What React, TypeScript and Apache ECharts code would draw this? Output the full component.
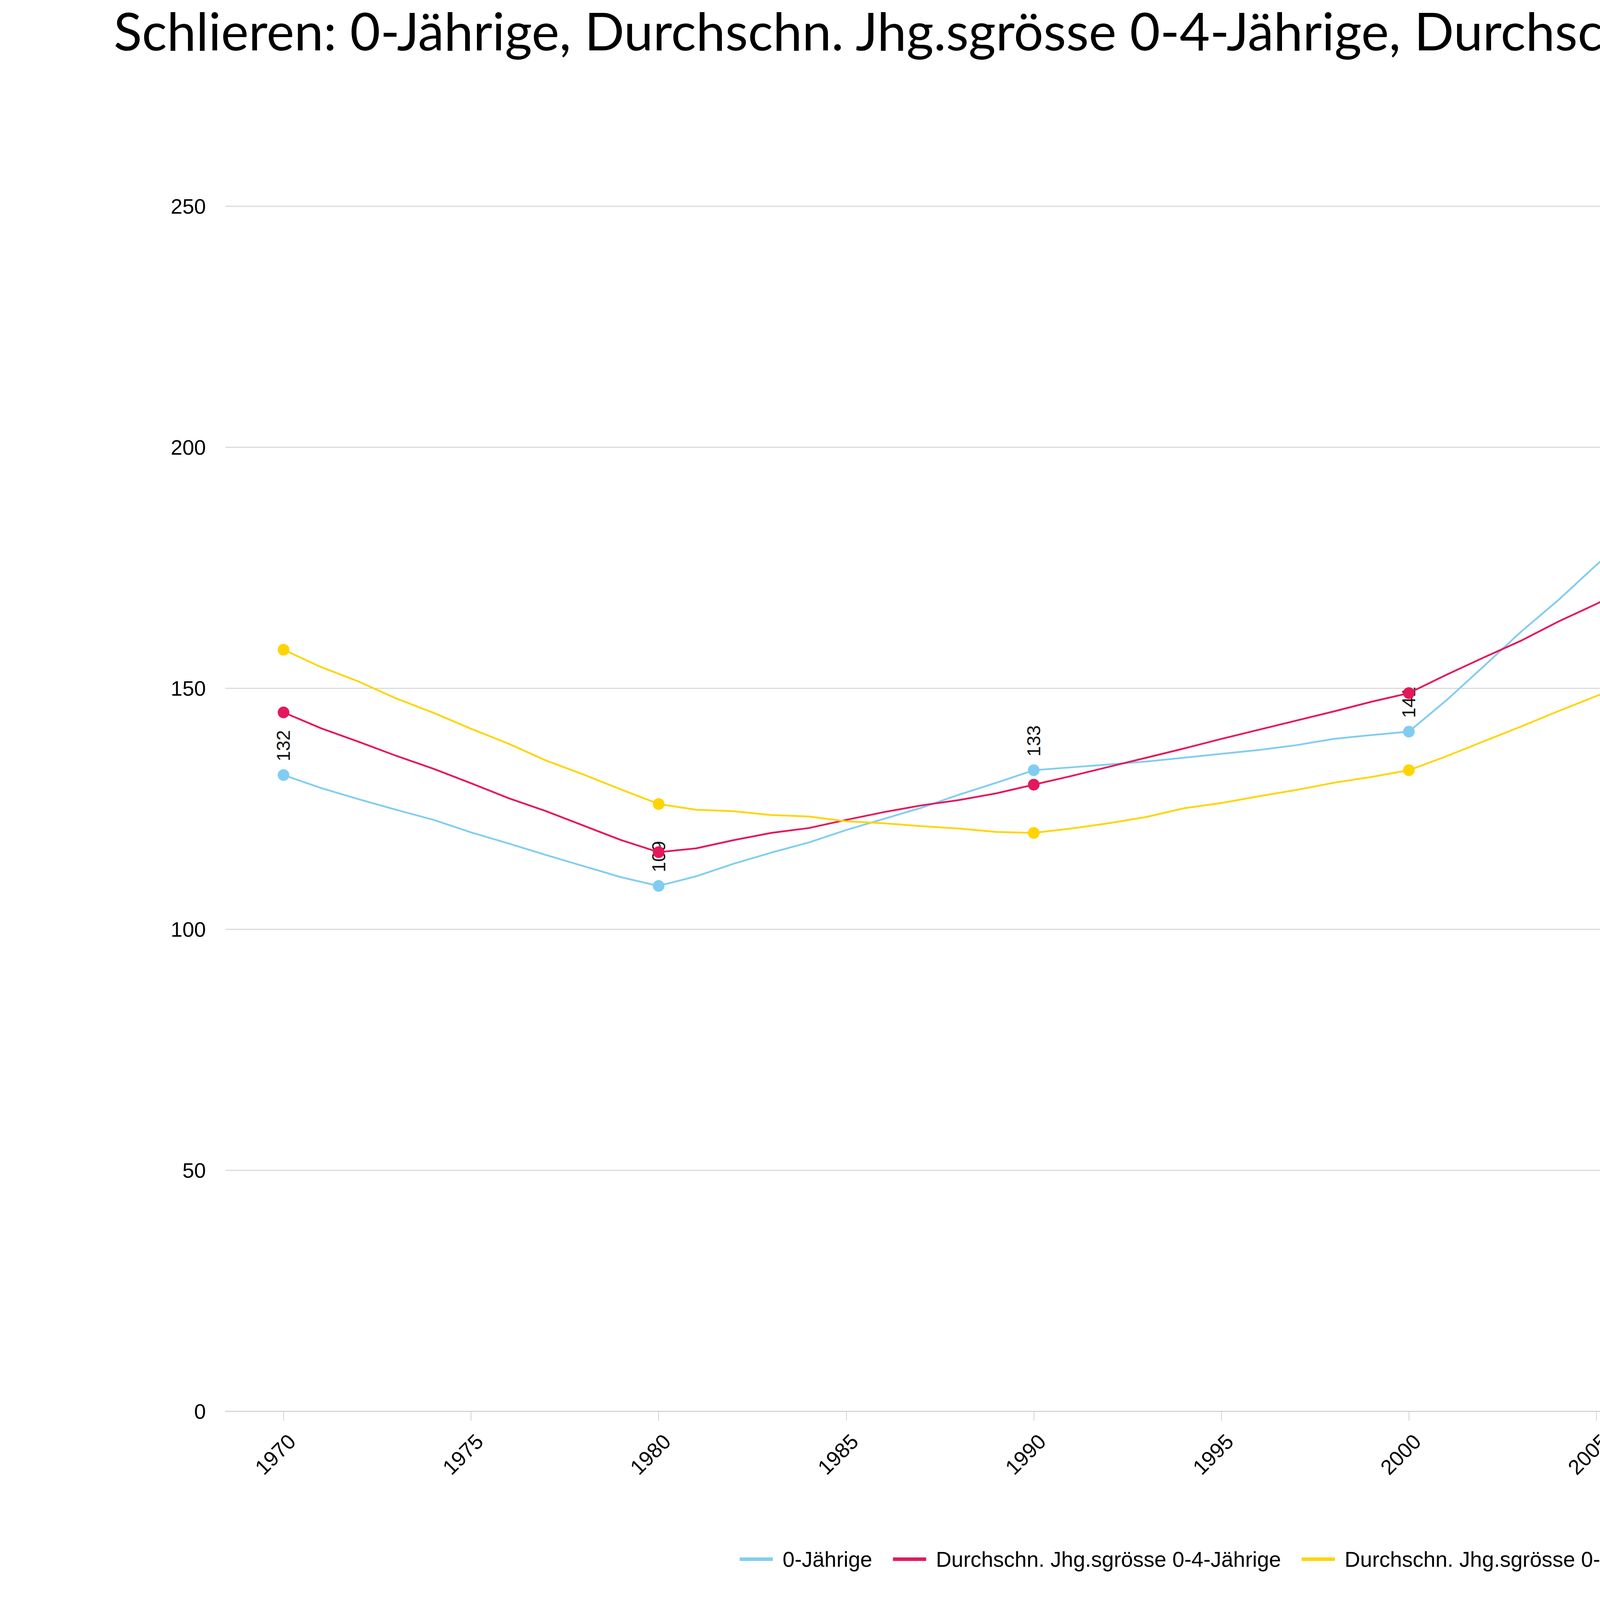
import React, { useEffect, useRef } from 'react';
import * as echarts from 'echarts';

const TITLE = 'Schlieren: 0-Jährige, Durchschn. Jhg.sgrösse 0-4-Jährige, Durchschn. Jhg.sgrösse 0-15-Jährige';
const SERIES_NAMES = ['0-Jährige', 'Durchschn. Jhg.sgrösse 0-4-Jährige', 'Durchschn. Jhg.sgrösse 0-15-Jährige'];
const COLORS = ['#80CDF1', '#E4185A', '#FFD400'];

const years = [
  1970, 1971, 1972, 1973, 1974, 1975, 1976, 1977, 1978, 1979,
  1980, 1981, 1982, 1983, 1984, 1985, 1986, 1987, 1988, 1989,
  1990, 1991, 1992, 1993, 1994, 1995, 1996, 1997, 1998, 1999,
  2000, 2001, 2002, 2003, 2004, 2005, 2006, 2007, 2008, 2009,
  2010, 2011, 2012, 2013, 2014, 2015, 2016, 2017, 2018, 2019,
  2020, 2021, 2022,
];

const nullJaehrige = [
  132, 129.3, 127.0, 124.8, 122.7, 120.1, 117.8, 115.4, 113.1, 110.8,
  109, 111.0, 113.6, 115.9, 118.0, 120.6, 122.9, 125.2, 127.9, 130.4,
  133, 133.6, 134.2, 134.8, 135.6, 136.4, 137.2, 138.2, 139.5, 140.3,
  141, 147.5, 154.6, 161.8, 168.4, 175.6, 182.3, 189.4, 196.3, 203.2,
  210, 222, 198, 233, 231, 222, 245, 224, 226, 228,
  242, 230, 249,
];

const jhg0bis4 = [
  145, 141.7, 138.9, 136.0, 133.3, 130.3, 127.2, 124.5, 121.5, 118.5,
  116, 116.8, 118.5, 120.0, 121.0, 122.7, 124.3, 125.7, 126.8, 128.2,
  130, 131.8, 133.7, 135.6, 137.5, 139.5, 141.4, 143.3, 145.2, 147.2,
  149, 152.8, 156.4, 159.9, 163.9, 167.5, 171.3, 174.9, 178.3, 182.2,
  186, 197, 201, 205, 215, 211, 217, 218, 211, 207,
  218, 211, 218,
];

const jhg0bis15 = [
  158, 154.4, 151.4, 147.9, 144.9, 141.6, 138.5, 135.0, 132.1, 129.0,
  126, 124.8, 124.5, 123.7, 123.4, 122.4, 122.0, 121.4, 120.9, 120.2,
  120, 120.9, 122.0, 123.3, 125.1, 126.2, 127.6, 128.9, 130.4, 131.6,
  133, 135.9, 139.0, 142.1, 145.3, 148.4, 151.4, 154.6, 157.6, 160.7,
  164, 168, 172, 176, 181, 181, 184, 183, 180, 180,
  189, 189, 192.6,
];

const censusYears = [1970, 1980, 1990, 2000, 2010];
const labelYears = [1970, 1980, 1990, 2000, 2010, 2015, 2020, 2022];
const xTickYears = [1970, 1975, 1980, 1985, 1990, 1995, 2000, 2005, 2010, 2015, 2022];
const SPLIT_YEAR = 2010;

function buildSeries(idx: number, values: number[], withLabels: boolean) {
  const name = SERIES_NAMES[idx];
  const color = COLORS[idx];
  const pairs = years.map((y, i) => [y, values[i]]);
  const early = pairs.filter((p) => p[0] <= SPLIT_YEAR);
  const late = pairs.filter((p) => p[0] >= SPLIT_YEAR);
  const labelCfg = (distance: number) => ({
    show: withLabels,
    position: 'top',
    rotate: 90,
    align: 'left',
    verticalAlign: 'middle',
    distance,
    fontSize: 48,
    fontFamily: 'Liberation Sans',
    color: '#111',
    formatter: (p: any) => (labelYears.includes(p.value[0]) ? String(Math.round(p.value[1])) : ''),
  });
  return [
    {
      name,
      type: 'line',
      data: early,
      color,
      lineStyle: { width: 4.5, color },
      itemStyle: { color },
      symbol: 'circle',
      symbolSize: (v: number[]) => (censusYears.includes(v[0]) ? 30 : 1),
      showAllSymbol: true,
      label: labelCfg(20),
      emphasis: { disabled: true },
      z: 2 + idx,
    },
    {
      name,
      type: 'line',
      data: late,
      color,
      lineStyle: { width: 9, color },
      itemStyle: { color },
      symbol: 'circle',
      symbolSize: 1,
      showAllSymbol: true,
      label: {
        ...labelCfg(34),
        formatter: (p: any) =>
          labelYears.includes(p.value[0]) && p.value[0] > SPLIT_YEAR ? String(Math.round(p.value[1])) : '',
      },
      emphasis: { disabled: true },
      z: 2 + idx,
    },
  ];
}

export default function App() {
  const ref = useRef<HTMLDivElement>(null);
  useEffect(() => {
    document.body.style.margin = '0';
    if (!ref.current) return;
    const chart = echarts.init(ref.current, undefined, { renderer: 'svg' });
    const option: any = {
      animation: false,
      backgroundColor: '#ffffff',
      title: [
        {
          text: TITLE,
          left: 291,
          top: 10,
          padding: 0,
          textStyle: { fontFamily: 'Lato', fontSize: 134, fontWeight: 'normal', color: '#000' },
        },
        {
          text: 'Eckdaten.ch',
          left: 288,
          top: 4109,
          padding: 0,
          textStyle: { fontFamily: 'Lato', fontSize: 48, fontWeight: 'normal', color: '#000' },
        },
        {
          text: 'Quelle: BFS (STATPOP), BFS (VZ)',
          right: 266,
          top: 4109,
          padding: 0,
          textStyle: { fontFamily: 'Lato', fontSize: 48, fontWeight: 'normal', color: '#000' },
        },
      ],
      legend: {
        data: SERIES_NAMES,
        left: 'center',
        top: 3964,
        padding: 0,
        icon: 'rect',
        itemWidth: 85,
        itemHeight: 9,
        itemGap: 53,
        textStyle: { fontFamily: 'Liberation Sans', fontSize: 55, color: '#000', padding: [0, 0, 0, 20] },
      },
      grid: { left: 577, right: 377, top: 528, bottom: 554, containLabel: false },
      xAxis: {
        type: 'value',
        min: 1968.45,
        max: 2023.6,
        axisLine: { show: true, lineStyle: { color: '#c4c4c4', width: 2 } },
        axisTick: { show: true, customValues: xTickYears, length: 24, lineStyle: { color: '#c4c4c4', width: 1.5 } },
        axisLabel: {
          customValues: xTickYears,
          rotate: 45,
          fontSize: 54,
          fontFamily: 'Liberation Sans',
          color: '#000',
          margin: 35,
          verticalAlign: 'top',
          padding: [11, 8, 0, 0],
          formatter: (v: number) => String(v),
        },
        splitLine: { show: false },
      },
      yAxis: {
        type: 'value',
        min: 0,
        max: 250,
        interval: 50,
        axisLine: { show: false },
        axisTick: { show: false },
        axisLabel: { fontSize: 54, fontFamily: 'Liberation Sans', color: '#000', margin: 50 },
        splitLine: { lineStyle: { color: '#cccccc', width: 2 } },
      },
      series: [
        ...buildSeries(0, nullJaehrige, true),
        ...buildSeries(1, jhg0bis4, false),
        ...buildSeries(2, jhg0bis15, false),
      ],
    };
    chart.setOption(option);
    return () => chart.dispose();
  }, []);
  return <div ref={ref} style={{ width: '6250px', height: '4167px' }} />;
}
